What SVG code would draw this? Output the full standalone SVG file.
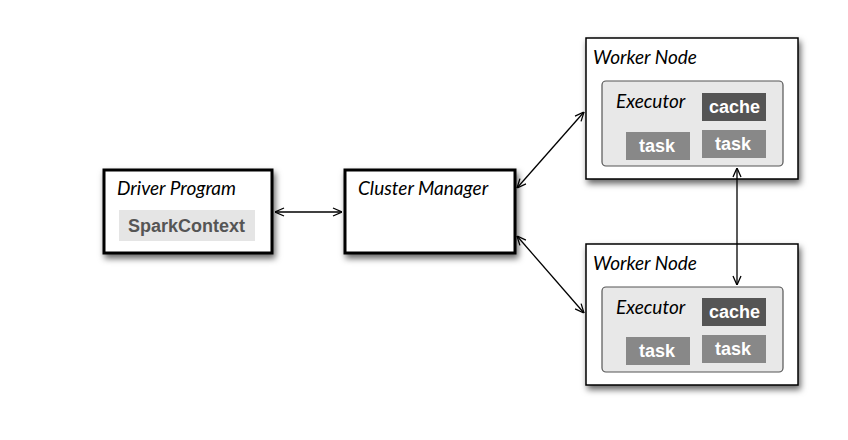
<svg xmlns="http://www.w3.org/2000/svg" width="848" height="440" viewBox="0 0 848 440">
<defs>
<filter id="sh" x="-20%" y="-20%" width="150%" height="160%">
<feDropShadow dx="2" dy="4" stdDeviation="3" flood-color="#000" flood-opacity="0.6"/>
</filter>
<marker id="ah" viewBox="0 0 10 10" refX="10" refY="5" markerWidth="10" markerHeight="10" markerUnits="userSpaceOnUse" orient="auto-start-reverse">
<path d="M1,1 L10,5 L1,9" fill="none" stroke="#000" stroke-width="1.3"/>
</marker>
<style>
.box{fill:#fff;stroke:#000;}
.thick{stroke-width:3;}
.thin{stroke-width:1.5;}
.exec{fill:#e8e8e8;stroke:#555;stroke-width:1.2;}
.title{font-family:Lato,"Open Sans",sans-serif;font-style:italic;font-size:19px;fill:#000;}
.lbl{font-family:"Liberation Sans",Arial,sans-serif;font-weight:bold;font-size:18px;}
.cache{fill:#555;}
.task{fill:#888;}
.wt{fill:#fff;}
.conn{stroke:#000;stroke-width:1.3;fill:none;marker-start:url(#ah);marker-end:url(#ah);}
</style>
</defs>
<rect width="848" height="440" fill="#fff"/>
<g id="driver">
<rect class="box thick" x="104" y="170" width="168" height="83" filter="url(#sh)"/>
<text class="title" x="117" y="195">Driver Program</text>
<rect x="119" y="210" width="136" height="31" fill="#e5e5e5"/>
<text class="lbl" x="128" y="232" fill="#555">SparkContext</text>
</g>
<g id="cluster">
<rect class="box thick" x="345" y="170" width="170" height="83" filter="url(#sh)"/>
<text class="title" x="358" y="195">Cluster Manager</text>
</g>
<g id="worker1">
<rect class="box thin" x="586" y="38" width="212" height="141" filter="url(#sh)"/>
<text class="title" x="593" y="64">Worker Node</text>
<rect class="exec" x="602" y="81" width="181" height="85" rx="4"/>
<text class="title" x="616" y="108">Executor</text>
<rect class="cache" x="702" y="93" width="64" height="28"/>
<text class="lbl wt" x="709" y="113">cache</text>
<rect class="task" x="626" y="132" width="64" height="28"/>
<text class="lbl wt" x="639" y="152">task</text>
<rect class="task" x="702" y="130" width="64" height="28"/>
<text class="lbl wt" x="715" y="150">task</text>
</g>
<g id="worker2">
<rect class="box thin" x="586" y="244" width="212" height="141" filter="url(#sh)"/>
<text class="title" x="593" y="270">Worker Node</text>
<rect class="exec" x="602" y="287" width="181" height="85" rx="4"/>
<text class="title" x="616" y="314">Executor</text>
<rect class="cache" x="702" y="298" width="64" height="28"/>
<text class="lbl wt" x="709" y="318">cache</text>
<rect class="task" x="626" y="337" width="64" height="28"/>
<text class="lbl wt" x="639" y="357">task</text>
<rect class="task" x="702" y="335" width="64" height="28"/>
<text class="lbl wt" x="715" y="355">task</text>
</g>
<g id="connectors">
<line class="conn" x1="275" y1="212" x2="342" y2="212"/>
<line class="conn" x1="517" y1="188" x2="584" y2="112"/>
<line class="conn" x1="517" y1="236" x2="584" y2="313"/>
<line class="conn" x1="737" y1="168" x2="737" y2="285"/>
</g>
</svg>
